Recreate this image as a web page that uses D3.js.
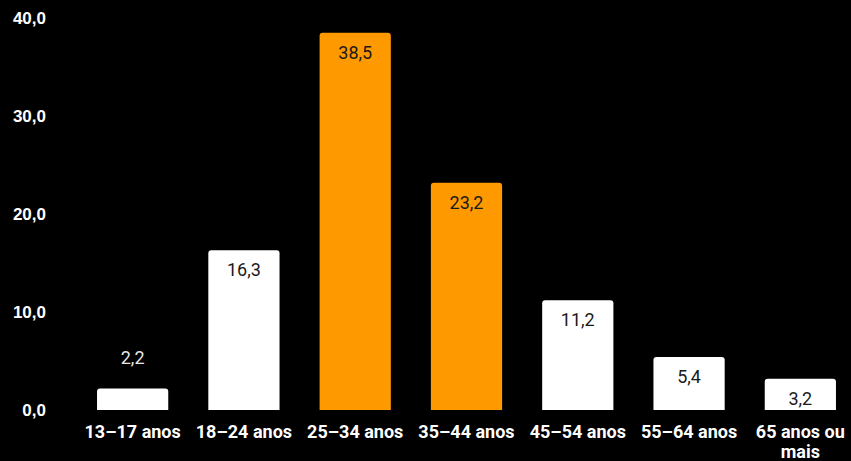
<!DOCTYPE html>
<html>
<head>
<meta charset="utf-8">
<script src="https://cdn.jsdelivr.net/npm/d3@7"></script>
<style>
  html, body { margin: 0; padding: 0; background: #000; }
  svg { display: block; font-family: Roboto, "Noto Sans", sans-serif; }
</style>
</head>
<body>
<svg id="chart" width="851" height="461"></svg>
<script>
// age groups and share (%)
const categories = ['13–17 anos', '18–24 anos', '25–34 anos', '35–44 anos', '45–54 anos', '55–64 anos', '65 anos ou mais'];
const values = [2.2, 16.3, 38.5, 23.2, 11.2, 5.4, 3.2];
const highlighted = ['25–34 anos', '35–44 anos'];
const yTicks = [0, 10, 20, 30, 40];

const svg = d3.select('#chart');
const fmt = v => d3.format('.1f')(v).replace('.', ',');

const x = d3.scaleBand()
  .domain(categories)
  .range([77, 856])
  .paddingInner(0.36)
  .paddingOuter(0.18);

const y = d3.scaleLinear()
  .domain([0, 40])
  .range([410, 18]);

// y axis labels
const yAxis = svg.append('g')
  .attr('transform', 'translate(46,0)')
  .call(d3.axisLeft(y).tickValues(yTicks).tickFormat(fmt).tickSize(0).tickPadding(0));
yAxis.select('.domain').remove();
yAxis.selectAll('text')
  .attr('fill', '#fff')
  .style('font-size', '17px')
  .style('font-weight', 'bold')
  .attr('dy', '0.35em');

// bars with slightly rounded top corners
const barPath = d => {
  const x0 = x(d.cat), w = x.bandwidth(), y0 = y(d.val), y1 = y(0), r = 3;
  return `M${x0},${y1}V${y0 + r}Q${x0},${y0} ${x0 + r},${y0}H${x0 + w - r}Q${x0 + w},${y0} ${x0 + w},${y0 + r}V${y1}Z`;
};

const data = categories.map((c, i) => ({ cat: c, val: values[i] }));

svg.append('g').selectAll('path')
  .data(data)
  .join('path')
  .attr('d', barPath)
  .attr('fill', d => highlighted.includes(d.cat) ? '#ff9900' : '#fff');

// value labels: inside the bar, or above it when bar is too short
const tooShort = d => (y(0) - y(d.val)) < 25;
svg.append('g').selectAll('text')
  .data(data)
  .join('text')
  .attr('x', d => x(d.cat) + x.bandwidth() / 2)
  .attr('y', d => tooShort(d) ? y(d.val) - 24 : y(d.val) + 26)
  .attr('text-anchor', 'middle')
  .attr('fill', d => tooShort(d) ? '#e6e6e6' : '#1a1a1a')
  .style('font-size', '18px')
  .text(d => fmt(d.val));

// x axis labels (wrap long ones)
const xLabels = svg.append('g').selectAll('text')
  .data(categories)
  .join('text')
  .attr('x', d => x(d) + x.bandwidth() / 2)
  .attr('y', 438)
  .attr('text-anchor', 'middle')
  .attr('fill', '#fff')
  .style('font-size', '18px')
  .style('font-weight', 'bold');

xLabels.each(function(d) {
  const el = d3.select(this);
  const lines = d === '65 anos ou mais' ? ['65 anos ou', 'mais'] : [d];
  lines.forEach((l, i) => {
    el.append('tspan')
      .attr('x', x(d) + x.bandwidth() / 2)
      .attr('dy', i === 0 ? 0 : 20)
      .text(l);
  });
});
</script>
</body>
</html>
